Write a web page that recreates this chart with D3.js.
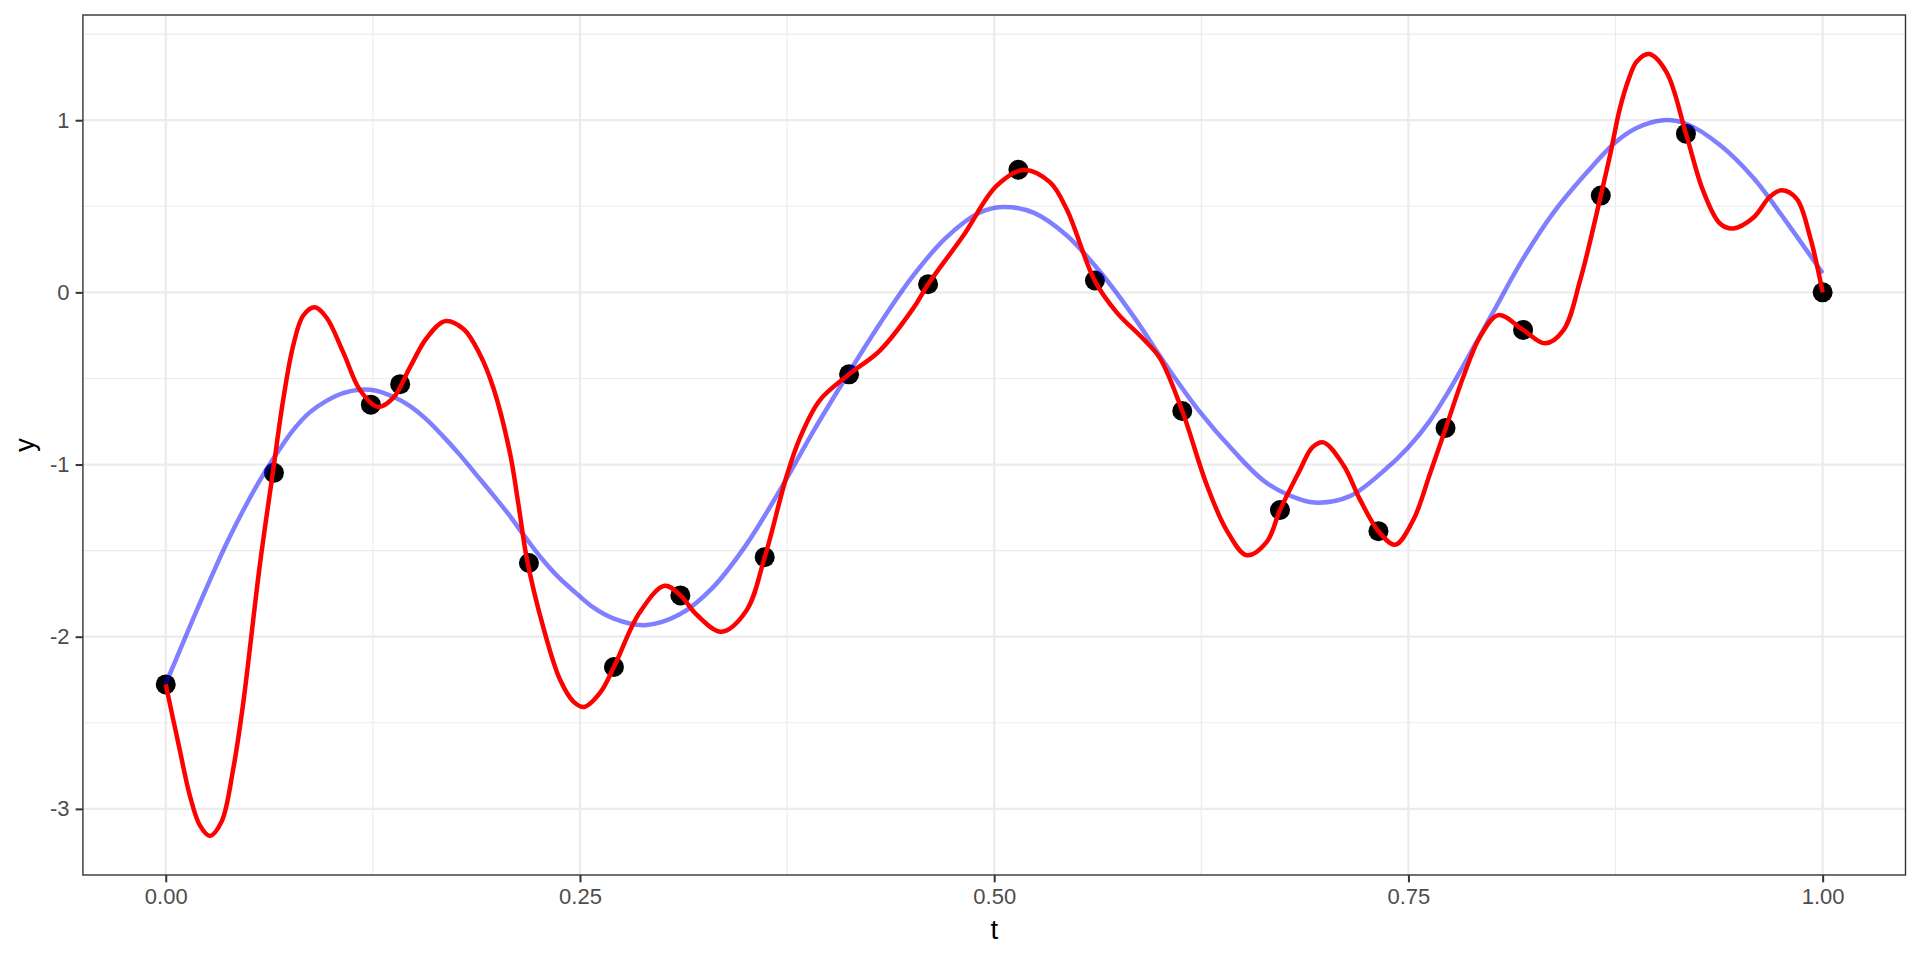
<!DOCTYPE html>
<html>
<head>
<meta charset="utf-8">
<script src="https://cdn.jsdelivr.net/npm/d3@7"></script>
<style>
  body { margin: 0; background: #fff; }
  svg { display: block; font-family: "Liberation Sans", Arial, Helvetica, sans-serif; }
</style>
</head>
<body>
<svg id="chart" width="1920" height="960"></svg>
<script>
// observed points
const pointT = [0, 0.0653, 0.1238, 0.1415, 0.2192, 0.2705, 0.3106, 0.3615, 0.4124, 0.4601,
                0.5146, 0.5608, 0.6135, 0.6725, 0.7319, 0.7724, 0.8192, 0.8661, 0.9175, 1.0];
const pointY = [-2.277, -1.048, -0.652, -0.533, -1.572, -2.176, -1.76, -1.538, -0.476, 0.047,
                0.712, 0.069, -0.689, -1.264, -1.387, -0.788, -0.218, 0.562, 0.922, 0.0];

// smooth (true) curve
const blueT = [0, 0.0085, 0.0165, 0.0266, 0.0366, 0.0467, 0.0567, 0.0648, 0.0769, 0.0869,
               0.097, 0.107, 0.117, 0.127, 0.137, 0.147, 0.157, 0.167, 0.177, 0.187,
               0.197, 0.207, 0.217, 0.227, 0.237, 0.247, 0.258, 0.270, 0.289, 0.310,
               0.330, 0.350, 0.370, 0.391, 0.412, 0.431, 0.451, 0.471, 0.491, 0.505,
               0.524, 0.544, 0.564, 0.584, 0.604, 0.624, 0.644, 0.664, 0.685, 0.696,
               0.715, 0.735, 0.750, 0.763, 0.773, 0.783, 0.793, 0.803, 0.817, 0.837,
               0.858, 0.875, 0.888, 0.904, 0.918, 0.938, 0.958, 0.978, 1.0];
const blueY = [-2.273, -2.079, -1.896, -1.673, -1.46, -1.267, -1.093, -0.968, -0.800, -0.697,
               -0.630, -0.585, -0.565, -0.571, -0.605, -0.658, -0.735, -0.832, -0.938, -1.054,
               -1.17, -1.29, -1.422, -1.547, -1.654, -1.741, -1.83, -1.893, -1.933, -1.871,
               -1.716, -1.471, -1.16, -0.804, -0.471, -0.182, 0.096, 0.318, 0.462, 0.496,
               0.462, 0.329, 0.118, -0.138, -0.427, -0.693, -0.916, -1.104, -1.204, -1.222,
               -1.182, -1.038, -0.9, -0.745, -0.595, -0.428, -0.255, -0.083, 0.160, 0.456,
               0.70, 0.872, 0.956, 1.0, 0.978, 0.856, 0.667, 0.411, 0.111];

// wiggly fit
const redT = [0, 0.0085, 0.0145, 0.0206, 0.0266, 0.0337, 0.0407, 0.0467, 0.0567, 0.0648,
              0.0708, 0.0769, 0.0829, 0.0900, 0.0970, 0.1072, 0.1172, 0.1280, 0.1373, 0.1475,
              0.1575, 0.1686, 0.1797, 0.1897, 0.1978, 0.2078, 0.2128, 0.2180, 0.2280, 0.2380,
              0.2462, 0.2525, 0.2622, 0.2705, 0.2860, 0.3011, 0.3106, 0.3203, 0.3353, 0.3504,
              0.3615, 0.3746, 0.3826, 0.3947, 0.4124, 0.4310, 0.4511, 0.4601, 0.4813, 0.5014,
              0.5178, 0.5336, 0.5437, 0.5608, 0.5739, 0.5900, 0.6000, 0.6135, 0.6282, 0.6403,
              0.6524, 0.6645, 0.6725, 0.6846, 0.6920, 0.6987, 0.7108, 0.7208, 0.7319, 0.7420,
              0.7530, 0.7631, 0.7725, 0.7832, 0.7933, 0.8043, 0.8194, 0.8325, 0.8436, 0.8537,
              0.8661, 0.8720, 0.8776, 0.8830, 0.8877, 0.8953, 0.9058, 0.9175, 0.9279, 0.9380,
              0.9461, 0.9581, 0.9682, 0.9752, 0.9843, 0.9924, 1.0];
const redY = [-2.277, -2.66, -2.921, -3.096, -3.157, -3.074, -2.769, -2.39, -1.59, -1.035,
              -0.629, -0.31, -0.136, -0.087, -0.146, -0.35, -0.567, -0.665, -0.613, -0.433,
              -0.265, -0.167, -0.213, -0.362, -0.557, -0.936, -1.228, -1.55, -1.95, -2.25,
              -2.378, -2.408, -2.325, -2.176, -1.86, -1.704, -1.76, -1.871, -1.971, -1.849,
              -1.538, -1.071, -0.849, -0.627, -0.476, -0.338, -0.093, 0.047, 0.329, 0.618,
              0.711, 0.64, 0.484, 0.065, -0.116, -0.271, -0.382, -0.689, -1.116, -1.382,
              -1.527, -1.449, -1.264, -1.03, -0.90, -0.871, -1.004, -1.204, -1.387, -1.466,
              -1.321, -1.05, -0.789, -0.489, -0.257, -0.132, -0.219, -0.296, -0.219, 0.072,
              0.562, 0.811, 1.067, 1.24, 1.34, 1.384, 1.278, 0.922, 0.589, 0.4,
              0.371, 0.433, 0.556, 0.593, 0.544, 0.322, 0.0];

const xTicks = [0, 0.25, 0.5, 0.75, 1];
const xTickLabels = ["0.00", "0.25", "0.50", "0.75", "1.00"];
const xMinor = [0.125, 0.375, 0.625, 0.875];
const yTicks = [-3, -2, -1, 0, 1];
const yTickLabels = ["-3", "-2", "-1", "0", "1"];
const yMinor = [-2.5, -1.5, -0.5, 0.5, 1.5];

const panel = { left: 82.9, right: 1905.5, top: 15, bottom: 875 };

const svg = d3.select("#chart");

// ggplot style 5% expansion
const xExt = [0, 1];
const xPad = (xExt[1] - xExt[0]) * 0.05;
const x = d3.scaleLinear()
    .domain([xExt[0] - xPad, xExt[1] + xPad])
    .range([panel.left, panel.right]);

const allY = redY.concat(blueY, pointY);
const yExt = d3.extent(allY);
const yPad = (yExt[1] - yExt[0]) * 0.05;
const y = d3.scaleLinear()
    .domain([yExt[0] - yPad, yExt[1] + yPad])
    .range([panel.bottom, panel.top]);

const grid = svg.append("g").attr("class", "grid");

grid.selectAll(".minor-x").data(xMinor).enter().append("line")
    .attr("x1", d => x(d)).attr("x2", d => x(d))
    .attr("y1", panel.top).attr("y2", panel.bottom)
    .attr("stroke", "#EBEBEB").attr("stroke-width", 1.1);
grid.selectAll(".minor-y").data(yMinor).enter().append("line")
    .attr("y1", d => y(d)).attr("y2", d => y(d))
    .attr("x1", panel.left).attr("x2", panel.right)
    .attr("stroke", "#EBEBEB").attr("stroke-width", 1.1);
grid.selectAll(".major-x").data(xTicks).enter().append("line")
    .attr("x1", d => x(d)).attr("x2", d => x(d))
    .attr("y1", panel.top).attr("y2", panel.bottom)
    .attr("stroke", "#EBEBEB").attr("stroke-width", 2.2);
grid.selectAll(".major-y").data(yTicks).enter().append("line")
    .attr("y1", d => y(d)).attr("y2", d => y(d))
    .attr("x1", panel.left).attr("x2", panel.right)
    .attr("stroke", "#EBEBEB").attr("stroke-width", 2.2);

// points underneath the lines
const points = pointT.map((t, i) => ({ t: t, y: pointY[i] }));
svg.append("g").selectAll("circle").data(points).enter().append("circle")
    .attr("cx", d => x(d.t))
    .attr("cy", d => y(d.y))
    .attr("r", 10)
    .attr("fill", "#000");

const line = d3.line()
    .x(d => x(d[0]))
    .y(d => y(d[1]))
    .curve(d3.curveCatmullRom.alpha(0.5));

svg.append("path")
    .datum(blueT.map((t, i) => [t, blueY[i]]))
    .attr("d", line)
    .attr("fill", "none")
    .attr("stroke", "blue")
    .attr("stroke-opacity", 0.5)
    .attr("stroke-width", 4.5);

svg.append("path")
    .datum(redT.map((t, i) => [t, redY[i]]))
    .attr("d", line)
    .attr("fill", "none")
    .attr("stroke", "red")
    .attr("stroke-width", 4.5);

// panel border
svg.append("rect")
    .attr("x", panel.left).attr("y", panel.top)
    .attr("width", panel.right - panel.left)
    .attr("height", panel.bottom - panel.top)
    .attr("fill", "none")
    .attr("stroke", "#333333")
    .attr("stroke-width", 1.4);

// axes
const xAxis = d3.axisBottom(x)
    .tickValues(xTicks)
    .tickFormat((d, i) => xTickLabels[i])
    .tickSize(7.3)
    .tickPadding(6);
const yAxis = d3.axisLeft(y)
    .tickValues(yTicks)
    .tickFormat((d, i) => yTickLabels[i])
    .tickSize(7.3)
    .tickPadding(6);

const gx = svg.append("g")
    .attr("transform", "translate(0," + panel.bottom + ")")
    .call(xAxis);
const gy = svg.append("g")
    .attr("transform", "translate(" + panel.left + ",0)")
    .call(yAxis);

[gx, gy].forEach(g => {
    g.select(".domain").remove();
    g.selectAll(".tick line").attr("stroke", "#333333").attr("stroke-width", 2);
    g.selectAll(".tick text")
        .attr("fill", "#4D4D4D")
        .style("font-size", "22px")
        .style("font-family", "'Liberation Sans', Arial, sans-serif");
});

svg.append("text")
    .attr("x", (panel.left + panel.right) / 2)
    .attr("y", 939)
    .attr("text-anchor", "middle")
    .style("font-size", "27.5px")
    .attr("fill", "#000")
    .text("t");

svg.append("text")
    .attr("transform", "translate(34," + (panel.top + panel.bottom) / 2 + ") rotate(-90)")
    .attr("text-anchor", "middle")
    .style("font-size", "27.5px")
    .attr("fill", "#000")
    .text("y");
</script>
</body>
</html>
